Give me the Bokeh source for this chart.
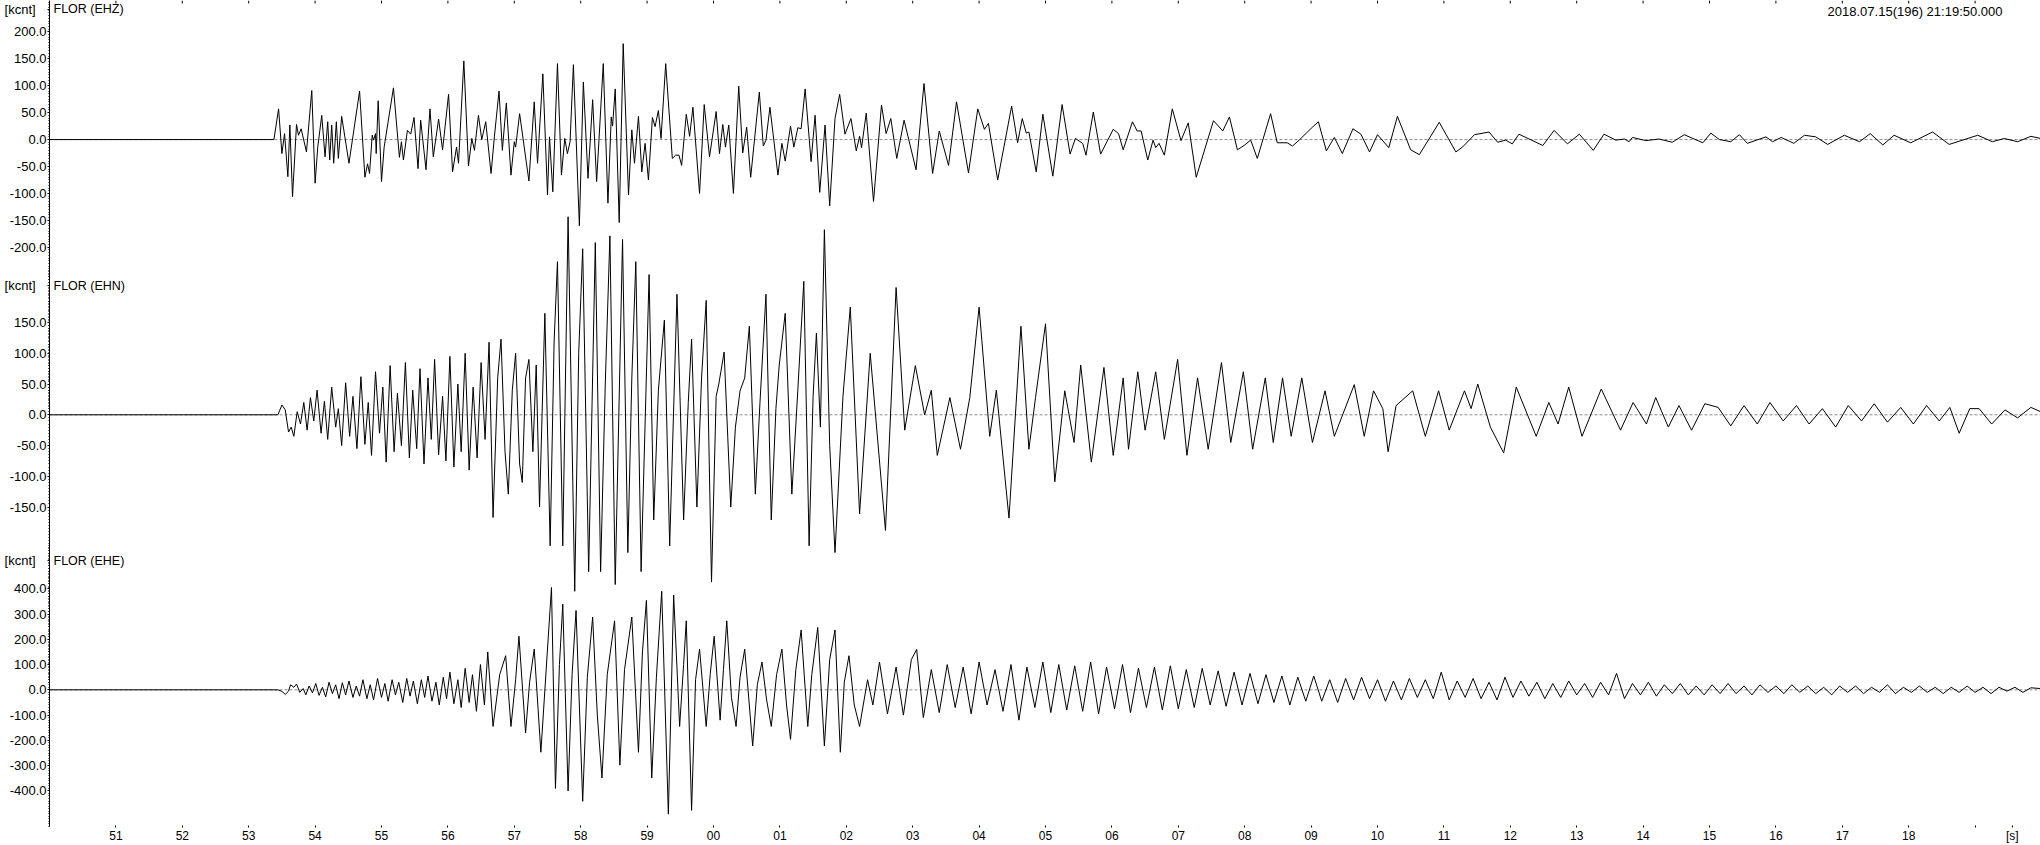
from bokeh.plotting import figure
from bokeh.models import Range1d, FixedTicker, Label, Span
from bokeh.embed import file_html
from bokeh.resources import INLINE

# ---------------- data ----------------
station = "FLOR"
channels = ["EHZ", "EHN", "EHE"]
start_label = "2018.07.15(196) 21:19:50.000"
amp_unit = "[kcnt]"
time_unit = "[s]"

# seconds after 21:19:00, values in kcnt (extrema)
ehz_t = [50.00, 53.38, 53.45, 53.50, 53.54, 53.59, 53.62, 53.66, 53.72, 53.75, 53.79, 53.87, 53.95, 54.00, 54.04,
         54.10, 54.15, 54.19, 54.22, 54.25, 54.28, 54.32, 54.35, 54.40, 54.51, 54.67, 54.75, 54.79, 54.82, 54.86,
         54.88, 54.91, 54.92, 54.95, 55.00, 55.04, 55.18, 55.27, 55.30, 55.33, 55.39, 55.44, 55.49, 55.55, 55.59,
         55.67, 55.73, 55.78, 55.86, 55.92, 56.01, 56.07, 56.13, 56.16, 56.24, 56.31, 56.36, 56.40, 56.46, 56.51,
         56.57, 56.65, 56.70, 56.77, 56.82, 56.88, 56.95, 57.00, 57.02, 57.08, 57.22, 57.30, 57.35, 57.43, 57.50,
         57.53, 57.58, 57.65, 57.71, 57.76, 57.80, 57.84, 57.89, 57.98, 58.04, 58.11, 58.18, 58.24, 58.34, 58.41,
         58.46, 58.48, 58.52, 58.58, 58.64, 58.72, 58.77, 58.81, 58.87, 58.92, 58.97, 59.02, 59.08, 59.12, 59.17,
         59.21, 59.28, 59.38, 59.43, 59.48, 59.52, 59.59, 59.64, 59.69, 59.79, 59.86, 59.94, 60.04, 60.09, 60.14,
         60.18, 60.23, 60.30, 60.38, 60.44, 60.50, 60.56, 60.69, 60.75, 60.79, 60.85, 60.97, 61.03, 61.08, 61.16,
         61.21, 61.27, 61.32, 61.38, 61.47, 61.53, 61.60, 61.68, 61.75, 61.83, 61.90, 61.98, 62.07, 62.15, 62.20,
         62.23, 62.30, 62.41, 62.53, 62.60, 62.67, 62.76, 62.87, 63.05, 63.17, 63.30, 63.40, 63.54, 63.66, 63.84,
         63.98, 64.08, 64.14, 64.28, 64.49, 64.58, 64.65, 64.71, 64.75, 64.86, 64.96, 65.11, 65.25, 65.37, 65.45,
         65.56, 65.61, 65.72, 65.83, 66.02, 66.10, 66.17, 66.31, 66.38, 66.44, 66.54, 66.62, 66.66, 66.71, 66.79,
         66.91, 67.04, 67.15, 67.27, 67.53, 67.67, 67.77, 67.89, 67.99, 68.09, 68.19, 68.39, 68.49, 68.64, 68.72,
         68.82, 69.02, 69.11, 69.23, 69.35, 69.47, 69.63, 69.75, 69.88, 70.00, 70.17, 70.30, 70.50, 70.63, 70.93,
         71.03, 71.18, 71.28, 71.46, 71.68, 71.81, 71.93, 72.03, 72.13, 72.49, 72.66, 72.86, 73.04, 73.25, 73.41,
         73.59, 73.72, 73.79, 73.84, 74.04, 74.24, 74.44, 74.62, 74.90, 75.02, 75.15, 75.32, 75.45, 75.57, 75.85,
         75.95, 76.08, 76.27, 76.43, 76.60, 76.78, 77.03, 77.26, 77.42, 77.61, 77.78, 78.03, 78.36, 78.61, 79.04,
         79.26, 79.44, 79.64, 79.84, 79.99]
ehz_v = [0, 0, 57, -26, 11, -69, 27, -106, 28, 8, 20, -23, 91, -81, -14,
         45, -32, 33, -38, 27, -44, 33, -35, 43, -44, 90, -70, -45, -63, 8,
         -1, 11, -26, 72, -78, -14, 96, -33, -4, -38, 17, 10, 41, -54, 36,
         -56, 57, -32, 38, -19, 84, -60, -14, -44, 146, -49, 2, -20, 45, 0,
         33, -63, 5, 90, -20, 68, -66, -4, -14, 48, -77, 70, -44, 122, -103,
         5, -97, 141, -66, 2, -26, -4, 139, -160, 107, -72, 74, -78, 141, -118,
         42, 25, 94, -154, 178, -103, 18, -44, 43, -60, -7, -75, 41, 24, 54,
         2, 141, -35, -29, -29, -48, 47, 6, 60, -100, 65, -32, 52, -26, 28,
         -14, 27, -100, 99, -25, 23, -70, 88, -12, -1, 60, -66, -7, -40, 25,
         -14, 22, 20, 94, -41, 45, -98, 27, -123, 39, 84, 10, 39, -21, 6,
         -15, 49, -115, 64, 11, 39, -35, 36, -56, 104, -63, 16, -48, 70, -62,
         57, 19, 30, -75, 62, -6, 39, 12, 14, -60, 47, -68, 65, -27, 2,
         -7, -29, 51, -27, 19, 11, -19, 33, 16, 16, -38, -1, -15, -7, -29,
         57, -2, 31, -70, 35, 16, 42, -19, -11, -1, -35, 48, -6, -6, -12,
         -1, 23, 33, -21, 4, -26, 20, 10, -23, 9, -15, 43, -19, -28, 32,
         10, -23, -14, 9, 14, -5, -1, -8, 10, -11, 17, -8, 10, -20, 10,
         -1, 1, -4, 4, -2, 1, -5, 9, -6, 12, 0, -4, 9, -7, 5,
         -4, 4, -7, 8, 5, -9, 8, -4, 11, -10, 8, -6, 14, -9, 8,
         -4, 2, -4, 6, 2]

ehn_t = [50.00, 53.44, 53.50, 53.55, 53.60, 53.64, 53.68, 53.73, 53.78, 53.83, 53.88, 53.93, 53.98, 54.03, 54.09,
         54.14, 54.19, 54.25, 54.31, 54.35, 54.40, 54.46, 54.52, 54.57, 54.63, 54.69, 54.75, 54.80, 54.85, 54.91,
         54.97, 55.02, 55.07, 55.13, 55.19, 55.24, 55.30, 55.36, 55.42, 55.47, 55.53, 55.58, 55.64, 55.70, 55.75,
         55.80, 55.86, 55.92, 55.97, 56.03, 56.09, 56.15, 56.20, 56.26, 56.32, 56.38, 56.44, 56.50, 56.56, 56.62,
         56.68, 56.75, 56.80, 56.86, 56.91, 56.97, 57.02, 57.08, 57.12, 57.17, 57.22, 57.28, 57.33, 57.38, 57.46,
         57.54, 57.60, 57.65, 57.73, 57.81, 57.91, 57.97, 58.03, 58.12, 58.22, 58.30, 58.37, 58.44, 58.52, 58.63,
         58.71, 58.77, 58.83, 58.91, 59.03, 59.10, 59.17, 59.26, 59.34, 59.45, 59.55, 59.62, 59.67, 59.75, 59.82,
         59.89, 59.97, 60.04, 60.08, 60.16, 60.26, 60.33, 60.40, 60.47, 60.54, 60.63, 60.70, 60.79, 60.87, 60.94,
         60.99, 61.08, 61.18, 61.27, 61.36, 61.44, 61.50, 61.55, 61.61, 61.67, 61.75, 61.83, 61.95, 62.06, 62.20,
         62.36, 62.59, 62.75, 62.88, 63.04, 63.18, 63.28, 63.37, 63.56, 63.72, 63.86, 64.00, 64.16, 64.26, 64.45,
         64.63, 64.75, 64.85, 65.00, 65.14, 65.29, 65.43, 65.53, 65.69, 65.88, 66.02, 66.17, 66.25, 66.39, 66.50,
         66.66, 66.79, 66.99, 67.13, 67.29, 67.45, 67.65, 67.79, 67.98, 68.12, 68.31, 68.43, 68.57, 68.70, 68.86,
         69.02, 69.21, 69.35, 69.65, 69.80, 69.94, 70.08, 70.16, 70.28, 70.53, 70.72, 70.92, 71.08, 71.31, 71.41,
         71.51, 71.70, 71.90, 72.09, 72.39, 72.58, 72.72, 72.88, 73.08, 73.37, 73.66, 73.85, 74.05, 74.19, 74.38,
         74.54, 74.73, 74.93, 75.13, 75.32, 75.52, 75.72, 75.91, 76.11, 76.31, 76.50, 76.70, 76.90, 77.09, 77.29,
         77.48, 77.68, 77.88, 78.07, 78.27, 78.46, 78.62, 78.76, 78.92, 79.06, 79.25, 79.45, 79.64, 79.84, 79.99]
ehn_v = [0, 0, 16, 8, -28, -20, -35, 5, -15, 20, -25, 28, -10, 40, -30,
         22, -40, 45, -20, 10, -50, 52, -35, 30, -55, 62, -48, 20, -66, 70,
         -30, 45, -77, 80, -60, 35, -50, 85, -70, 40, -55, 75, -80, 60, -40,
         90, -65, 30, -75, 95, -85, 50, -60, 100, -90, 45, -70, 85, -40, 118,
         -167, 60, 123, -60, -129, 40, 100, -80, -110, 60, 90, -60, 81, -150, 165,
         -213, 120, 249, -213, 322, -287, 100, 270, -255, 280, -255, 50, 291, -276, 285,
         -224, 60, 249, -255, 228, -171, 40, 154, -213, 196, -171, 20, 123, -150, 60,
         186, -272, 30, 50, 102, -150, -20, 39, 60, 144, -129, 20, 196, -171, 10,
         81, 165, -129, 40, 217, -213, 30, 133, -20, 301, -50, -224, 30, 175, -161,
         100, -188, 207, -25, 80, 0, 40, -66, 28, -56, 28, 175, -35, 40, -168,
         144, -56, 28, 148, -109, 39, -45, 81, -77, 77, -66, 60, -56, 70, -25,
         70, -40, 90, -66, 60, -56, 85, -45, 70, -56, 60, -45, 60, -35, 60,
         -45, 39, -35, 49, -35, 39, 10, -60, 15, 39, -35, 39, -25, 39, 10,
         50, -20, -62, 45, -35, 20, -15, 45, -35, 42, -25, 20, -15, 28, -20,
         15, -25, 18, 12, -18, 15, -15, 20, -10, 15, -15, 10, -20, 15, -10,
         18, -12, 12, -15, 15, -10, 12, -30, 10, 10, -15, 8, -5, 12, 5]

ehe_t = [50.00, 53.44, 53.50, 53.55, 53.60, 53.63, 53.68, 53.72, 53.77, 53.82, 53.86, 53.91, 53.96, 54.01, 54.06,
         54.11, 54.16, 54.21, 54.26, 54.31, 54.36, 54.41, 54.46, 54.51, 54.57, 54.62, 54.67, 54.72, 54.78, 54.83,
         54.88, 54.94, 55.00, 55.05, 55.10, 55.16, 55.21, 55.26, 55.32, 55.38, 55.43, 55.48, 55.54, 55.60, 55.65,
         55.70, 55.76, 55.82, 55.87, 55.93, 55.98, 56.03, 56.09, 56.15, 56.20, 56.26, 56.32, 56.37, 56.43, 56.49,
         56.55, 56.60, 56.68, 56.78, 56.87, 56.95, 57.02, 57.07, 57.17, 57.23, 57.30, 57.40, 57.48, 57.56, 57.62,
         57.68, 57.73, 57.81, 57.87, 57.93, 58.03, 58.10, 58.18, 58.25, 58.32, 58.40, 58.51, 58.59, 58.66, 58.77,
         58.87, 58.93, 58.99, 59.07, 59.14, 59.22, 59.32, 59.40, 59.49, 59.55, 59.59, 59.67, 59.73, 59.79, 59.89,
         59.95, 60.01, 60.10, 60.15, 60.20, 60.27, 60.34, 60.40, 60.47, 60.59, 60.66, 60.73, 60.80, 60.87, 60.95,
         61.03, 61.10, 61.16, 61.24, 61.32, 61.42, 61.48, 61.57, 61.67, 61.75, 61.83, 61.91, 61.97, 62.04, 62.12,
         62.20, 62.32, 62.40, 62.50, 62.62, 62.75, 62.86, 62.98, 63.06, 63.16, 63.28, 63.40, 63.52, 63.64, 63.76,
         63.88, 64.00, 64.12, 64.24, 64.36, 64.48, 64.60, 64.72, 64.84, 64.96, 65.08, 65.20, 65.32, 65.44, 65.56,
         65.68, 65.80, 65.92, 66.04, 66.16, 66.28, 66.40, 66.52, 66.64, 66.76, 66.88, 67.00, 67.12, 67.24, 67.36,
         67.48, 67.60, 67.72, 67.84, 67.96, 68.08, 68.20, 68.32, 68.44, 68.56, 68.68, 68.80, 68.92, 69.04, 69.16,
         69.28, 69.40, 69.52, 69.64, 69.76, 69.88, 70.00, 70.12, 70.24, 70.36, 70.48, 70.60, 70.72, 70.84, 70.96,
         71.08, 71.20, 71.32, 71.44, 71.56, 71.68, 71.80, 71.92, 72.04, 72.16, 72.28, 72.40, 72.52, 72.64, 72.76,
         72.88, 73.00, 73.12, 73.24, 73.36, 73.48, 73.60, 73.72, 73.84, 73.96, 74.08, 74.20, 74.32, 74.44, 74.56,
         74.68, 74.80, 74.92, 75.04, 75.16, 75.28, 75.40, 75.52, 75.64, 75.76, 75.88, 76.00, 76.12, 76.24, 76.36,
         76.48, 76.60, 76.72, 76.84, 76.96, 77.08, 77.20, 77.32, 77.44, 77.56, 77.68, 77.80, 77.92, 78.04, 78.16,
         78.28, 78.40, 78.52, 78.64, 78.76, 78.88, 79.00, 79.12, 79.24, 79.36, 79.48, 79.60, 79.72, 79.84, 79.99]
ehe_v = [0, 0, -6, -18, -5, 20, 10, 23, -10, 5, -20, 15, -12, 25, -22,
         10, -28, 30, -15, 20, -35, 28, -20, 35, -30, 15, -25, 40, -35, 20,
         -40, 45, -30, 25, -45, 40, -20, 30, -50, 45, -25, 35, -55, 40, -30,
         55, -45, 30, -60, 50, -35, 70, -55, 40, -70, 85, -50, 60, -85, 100,
         -60, 150, -145, 60, 135, -145, 40, 212, -171, 30, 161, -247, 80, 405, -390,
         100, 339, -400, 60, 314, -441, 50, 288, -100, -349, 60, 273, -298, 80, 288,
         -247, 150, 354, -349, 50, 390, -492, 375, -145, 100, 273, -477, 40, 161, -145,
         60, 212, -120, 80, 273, -30, -145, 50, 161, -222, 20, 110, -40, -145, 60,
         161, -60, -196, 80, 237, -145, 60, 247, -222, 120, 237, -247, 30, 135, -60,
         -145, 40, -60, 110, -95, 90, -100, 120, 160, -110, 80, -90, 100, -70, 90,
         -95, 110, -60, 80, -85, 100, -120, 90, -70, 110, -90, 100, -80, 95, -85,
         110, -95, 90, -75, 100, -90, 85, -70, 90, -80, 95, -75, 80, -70, 85,
         -60, 75, -65, 70, -60, 65, -55, 60, -50, 55, -60, 50, -45, 55, -45,
         40, -50, 45, -40, 50, -35, 40, -45, 35, -40, 45, -30, 40, -35, 70,
         -40, 35, -30, 45, -35, 30, -40, 50, -30, 35, -25, 30, -35, 25, -30,
         35, -20, 25, -30, 30, -20, 65, -35, 25, -20, 30, -25, 20, -15, 25,
         -20, 15, -20, 20, -15, 25, -15, 15, -20, 20, -10, 15, -15, 20, -10,
         15, -15, 10, -20, 15, -10, 15, -15, 10, -10, 20, -15, 10, -10, 15,
         -10, 10, -15, 10, -10, 15, -10, 10, -15, 10, -5, 10, -10, 8, 5]

ehz_ticks = [200, 150, 100, 50, 0, -50, -100, -150, -200]
ehn_ticks = [150, 100, 50, 0, -50, -100, -150]
ehe_ticks = [400, 300, 200, 100, 0, -100, -200, -300, -400]
minor_steps = [5, 5, 10]

x_ticks = list(range(51, 80))
x_tick_labels = ["%02d" % (s % 60) for s in x_ticks[:-1]] + [""]

# ---------------- layout (pixels) ----------------
W, H = 2040, 845
LEFT = 49            # page x of the amplitude axis
FRAME_B = 828        # page y of the frame bottom
ZERO_Y = [139.4, 415.3, 691.0]     # page y of each trace's zero line
UNIT_Y = [9.5, 286.0, 561.5]       # page y of the [kcnt] captions
CAP_TOP = [3, 280, 555]            # page y of the top of the channel captions
UNITS_PER_PX = [1.852, 1.622, 3.947]
PX_PER_S = 66.4
X0 = 50.0
FONT = "Liberation Sans"
NB = "\u00a0"

p = figure(width=W, height=H, output_backend="svg", toolbar_location=None,
           x_range=Range1d(X0, X0 + (W - LEFT) / PX_PER_S), y_range=Range1d(-FRAME_B, 0),
           min_border_left=LEFT, min_border_right=0, min_border_top=0, min_border_bottom=H - FRAME_B,
           background_fill_color="white", border_fill_color="white")
p.outline_line_color = None
p.grid.visible = False

series = [(ehz_t, ehz_v), (ehn_t, ehn_v), (ehe_t, ehe_v)]
ticks_list = [ehz_ticks, ehn_ticks, ehe_ticks]

major_pos, overrides, minor_pos = [], {}, []
for k in range(3):
    z, s = ZERO_Y[k], UNITS_PER_PX[k]
    name = "ch%d" % k
    p.extra_y_ranges[name] = Range1d(-(FRAME_B - z) * s, z * s)
    p.add_layout(Span(location=0, dimension="width", y_range_name=name, line_color="#8c8c8c",
                      line_dash="3 2", line_width=1, level="underlay"))
    t, v = series[k]
    p.line(t, v, y_range_name=name, line_color="black", line_width=1)
    for val in ticks_list[k]:
        pos = round(-(z - val / s), 2)
        major_pos.append(pos)
        overrides[pos] = "%.1f" % val
    upos = round(-UNIT_Y[k], 2)
    major_pos.append(upos)
    overrides[upos] = amp_unit + NB * 3
    lo = -(FRAME_B - z) * s if k == 2 else -(ZERO_Y[k + 1] - 8 - z) * s
    hi = z * s if k == 0 else (z - ZERO_Y[k - 1] - 130) * s
    step = minor_steps[k]
    val = int(lo // step) * step
    while val <= hi:
        minor_pos.append(round(-(z - val / s), 2))
        val += step

yax = p.yaxis[0]
yax.ticker = FixedTicker(ticks=major_pos, minor_ticks=minor_pos)
yax.major_label_overrides = overrides
yax.axis_line_color = "black"
yax.major_tick_out = 2
yax.major_tick_in = 0
yax.minor_tick_out = 1
yax.minor_tick_in = 0
yax.major_tick_line_color = "black"
yax.minor_tick_line_color = "black"
yax.major_label_standoff = 1
yax.major_label_text_font = FONT
yax.major_label_text_font_size = "13px"
yax.major_label_text_color = "black"

s_tick = round(X0 + (2012 - LEFT) / PX_PER_S, 2)
xax = p.xaxis[0]
xax.ticker = FixedTicker(ticks=x_ticks + [s_tick], minor_ticks=[])
overrides_x = {s: lab for s, lab in zip(x_ticks, x_tick_labels)}
overrides_x[s_tick] = time_unit
xax.major_label_overrides = overrides_x
xax.axis_line_color = None
xax.major_tick_in = 1
xax.major_tick_out = 1
xax.major_tick_line_color = "black"
xax.major_label_standoff = 1
xax.major_label_text_font = FONT
xax.major_label_text_font_size = "12px"
xax.major_label_text_color = "black"

# small ticks along the top edge
p.segment(x0=x_ticks, x1=x_ticks, y0=[0] * len(x_ticks), y1=[-3] * len(x_ticks),
          line_color="black", line_width=1)

for k in range(3):
    p.add_layout(Label(x=4, y=FRAME_B - CAP_TOP[k], x_units="screen", y_units="screen",
                       text="%s (%s)" % (station, channels[k]),
                       text_font=FONT, text_font_size="12.5px", text_baseline="top", text_align="left",
                       text_color="black"))

p.add_layout(Label(x=2002 - LEFT, y=FRAME_B - 5, x_units="screen", y_units="screen", text=start_label,
                   text_font=FONT, text_font_size="13px", text_baseline="top", text_align="right",
                   text_color="black"))

open("out.html", "w").write(file_html(p, INLINE))
